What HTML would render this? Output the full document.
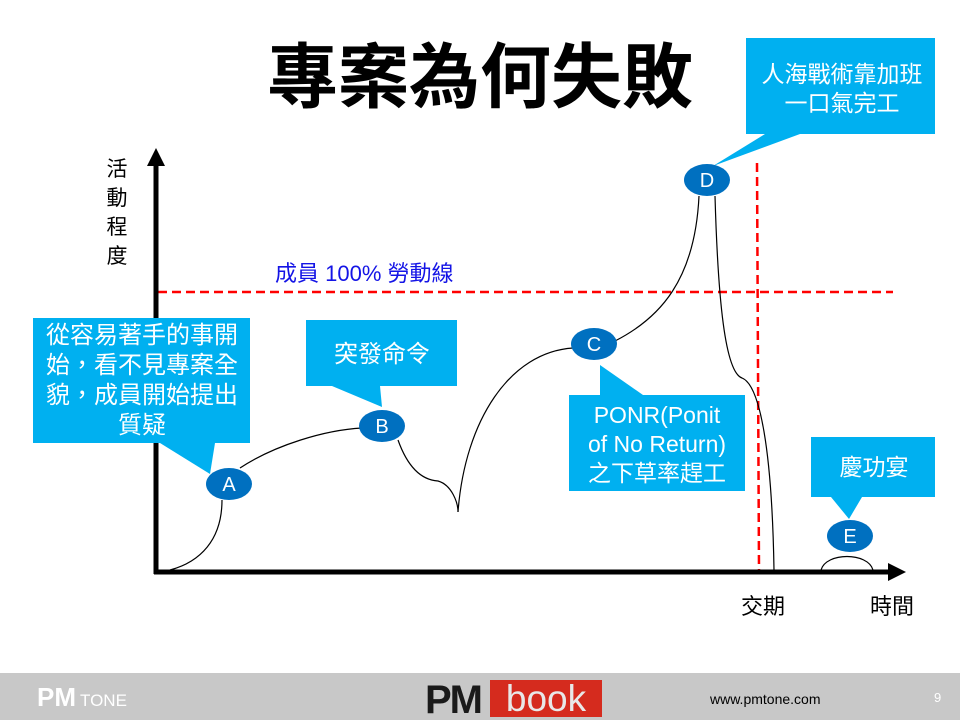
<!DOCTYPE html>
<html><head><meta charset="utf-8"><style>
html,body{margin:0;padding:0;background:#fff;}
svg{display:block;}
text{font-family:"Liberation Sans","Noto Sans CJK TC",sans-serif;}
</style></head><body>
<svg width="960" height="720" viewBox="0 0 960 720" xmlns="http://www.w3.org/2000/svg">
<rect width="960" height="720" fill="#fff"/>
<text x="480" y="102" font-size="71" font-weight="bold" text-anchor="middle" fill="#000">專案為何失敗</text>

<g font-size="21" fill="#000" text-anchor="middle">
<text x="117" y="176">活</text><text x="117" y="205">動</text><text x="117" y="234">程</text><text x="117" y="263">度</text>
</g>
<g font-size="22" fill="#000" text-anchor="middle">
<text x="763" y="614">交期</text><text x="892" y="614">時間</text>
</g>
<text x="275" y="281" font-size="22" fill="#1414e6">成員 100% 勞動線</text>

<line x1="158" y1="292" x2="893" y2="292" stroke="#ff0000" stroke-width="2.5" stroke-dasharray="9,5"/>
<line x1="757" y1="163" x2="759" y2="570" stroke="#ff0000" stroke-width="2.5" stroke-dasharray="9,5"/>

<line x1="156" y1="163" x2="156" y2="574" stroke="#000" stroke-width="5"/>
<polygon points="156,148 147,166 165,166" fill="#000"/>
<line x1="154" y1="572" x2="892" y2="572" stroke="#000" stroke-width="5"/>
<polygon points="906,572 888,563 888,581" fill="#000"/>

<g fill="none" stroke="#000" stroke-width="1.2">
<path d="M170,570 C200,562 222,540 222,500"/>
<path d="M240,468 C275,445 325,430 362,428"/>
<path d="M398,440 C408,468 422,480 438,481 C452,485 458,503 458,512"/>
<path d="M458,512 C465,420 510,352 573,348"/>
<path d="M615,341 C660,318 695,280 699,196"/>
<path d="M715,196 C718,300 725,372 742,378 C760,385 772,450 774,570"/>
<path d="M821,570 C826,552 868,552 873,570"/>
</g>

<g fill="#00b0f0">
<rect x="33" y="318" width="217" height="125"/>
<polygon points="160,443 215,443 210,474"/>
<rect x="306" y="320" width="151" height="66"/>
<polygon points="332,386 380,386 382,407"/>
<rect x="569" y="395" width="176" height="96"/>
<polygon points="600,395 643,395 600,365"/>
<rect x="746" y="38" width="189" height="96"/>
<polygon points="765,134 800,134 713,166"/>
<rect x="811" y="437" width="124" height="60"/>
<polygon points="831,497 862,497 849,519"/>
</g>
<g fill="#fff" font-size="24" text-anchor="middle">
<text x="142" y="343">從容易著手的事開</text>
<text x="142" y="373">始，看不見專案全</text>
<text x="142" y="403">貌，成員開始提出</text>
<text x="142" y="433">質疑</text>
<text x="382" y="362">突發命令</text>
<text x="657" y="423" font-size="23">PONR(Ponit</text>
<text x="657" y="452" font-size="23">of No Return)</text>
<text x="657" y="481" font-size="23">之下草率趕工</text>
<text x="842" y="82" font-size="23">人海戰術靠加班</text>
<text x="842" y="111" font-size="23">一口氣完工</text>
<text x="874" y="475" font-size="23">慶功宴</text>
</g>

<g fill="#0070c0">
<ellipse cx="229" cy="484" rx="23" ry="16"/>
<ellipse cx="382" cy="426" rx="23" ry="16"/>
<ellipse cx="594" cy="344" rx="23" ry="16"/>
<ellipse cx="707" cy="180" rx="23" ry="16"/>
<ellipse cx="850" cy="536" rx="23" ry="16"/>
</g>
<g fill="#fff" font-size="20" text-anchor="middle">
<text x="229" y="491">A</text><text x="382" y="433">B</text><text x="594" y="351">C</text><text x="707" y="187">D</text><text x="850" y="543">E</text>
</g>

<rect x="0" y="673" width="960" height="47" fill="#c8c8c8"/>
<text x="37" y="706" font-size="26" font-weight="bold" fill="#fff">PM</text>
<text x="80" y="706" font-size="17" fill="#fff">TONE</text>
<text x="425" y="713" font-size="40" font-weight="bold" fill="#1a1a1a" letter-spacing="-2">PM</text>
<rect x="490" y="680" width="112" height="37" fill="#d52b1e"/>
<text x="546" y="711" font-size="37" fill="#e8e8e8" text-anchor="middle">book</text>
<text x="710" y="704" font-size="14" fill="#000">www.pmtone.com</text>
<text x="934" y="702" font-size="13" fill="#fff">9</text>
</svg>
</body></html>
